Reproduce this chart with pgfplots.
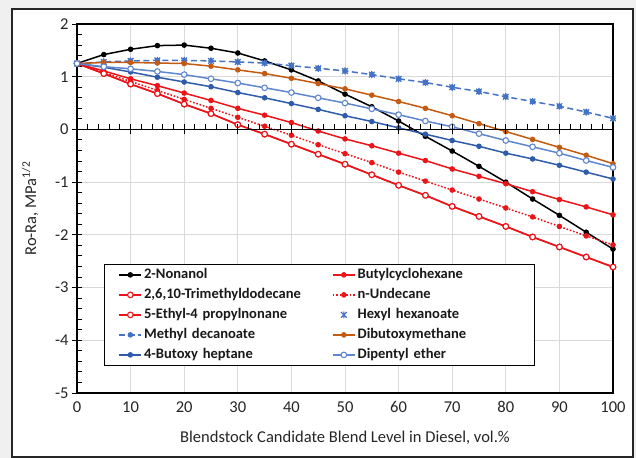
\documentclass[border=0pt]{standalone}
\usepackage{pgfplots}
\pgfplotsset{compat=1.18}
\usepackage{fontspec}
\setmainfont{Carlito}

\definecolor{xred}{RGB}{235,20,24}
\definecolor{xblue}{RGB}{68,114,196}
\definecolor{xblueD}{RGB}{47,92,170}
\definecolor{xblueL}{RGB}{95,135,205}
\definecolor{xorange}{RGB}{197,90,17}
\definecolor{xgrid}{RGB}{217,217,217}

% star marker: a cross with a vertical stroke through it
\pgfdeclareplotmark{xstar}{%
  \pgfpathmoveto{\pgfqpoint{-0.8\pgfplotmarksize}{-0.8\pgfplotmarksize}}%
  \pgfpathlineto{\pgfqpoint{0.8\pgfplotmarksize}{0.8\pgfplotmarksize}}%
  \pgfpathmoveto{\pgfqpoint{-0.8\pgfplotmarksize}{0.8\pgfplotmarksize}}%
  \pgfpathlineto{\pgfqpoint{0.8\pgfplotmarksize}{-0.8\pgfplotmarksize}}%
  \pgfpathmoveto{\pgfqpoint{0pt}{-\pgfplotmarksize}}%
  \pgfpathlineto{\pgfqpoint{0pt}{\pgfplotmarksize}}%
  \pgfusepathqstroke}

% Ro-Ra versus blend level for each candidate blendstock
\pgfplotstableread{
x   non    bch    tmd    und    mdec   dbm    dpe    bhp
0   1.25   1.25   1.25   1.25   1.25   1.25   1.25   1.25
5   1.42   1.11   1.06   1.08   1.28   1.27   1.19   1.18
10  1.52   0.96   0.86   0.91   1.30   1.27   1.15   1.09
15  1.59   0.83   0.68   0.74   1.31   1.26   1.10   0.99
20  1.60   0.69   0.48   0.57   1.31   1.25   1.04   0.90
25  1.54   0.55   0.30   0.40   1.30   1.20   0.96   0.81
30  1.45   0.40   0.09   0.23   1.28   1.13   0.88   0.70
35  1.30   0.27  -0.09   0.06   1.26   1.06   0.79   0.60
40  1.13   0.13  -0.28  -0.11   1.21   0.97   0.70   0.49
45  0.92  -0.03  -0.47  -0.29   1.16   0.87   0.60   0.38
50  0.67  -0.18  -0.66  -0.46   1.11   0.77   0.50   0.26
55  0.43  -0.31  -0.86  -0.63   1.04   0.65   0.39   0.15
60  0.16  -0.45  -1.06  -0.81   0.96   0.53   0.28   0.03
65 -0.13  -0.59  -1.25  -0.98   0.89   0.40   0.16  -0.09
70 -0.41  -0.75  -1.46  -1.15   0.80   0.26   0.05  -0.21
75 -0.70  -0.89  -1.65  -1.32   0.72   0.11  -0.08  -0.32
80 -1.00  -1.03  -1.84  -1.49   0.62  -0.04  -0.21  -0.45
85 -1.32  -1.18  -2.04  -1.66   0.53  -0.19  -0.33  -0.56
90 -1.63  -1.33  -2.23  -1.84   0.44  -0.34  -0.45  -0.68
95 -1.95  -1.47  -2.42  -2.02   0.33  -0.49  -0.59  -0.81
100 -2.27 -1.62  -2.61  -2.19   0.21  -0.65  -0.72  -0.94
}\data

\begin{document}
\begin{tikzpicture}
% page background and chart frame
\fill[gray!12] (-77bp,-65bp) rectangle (559bp,393bp);
\filldraw[fill=white,draw=black!85,line width=1.2bp] (-65bp,-64bp) rectangle (556bp,384bp);

\begin{axis}[
  scale only axis, width=536bp, height=369bp,
  xmin=0, xmax=100, ymin=-5, ymax=2,
  xtick={0,10,...,100}, ytick={-5,...,2},
  minor y tick num=4,
  grid=major, major grid style={xgrid, line width=0.8bp},
  axis line style={black, line width=1.3bp},
  x tick style={draw=none},
  ytick pos=left,
  tick align=center,
  major tick length=10bp, minor tick length=5bp,
  y tick style={black, line width=1bp},
  minor y tick style={xshift=2.5bp},
  /pgf/number format/assume math mode=true,
  tick label style={font=\fontsize{16.6}{20}\selectfont, text=black!85},
  label style={font=\fontsize{16.6}{20}\selectfont, text=black!85},
  xlabel={Blendstock Candidate Blend Level in Diesel, vol.\%},
  ylabel={Ro-Ra, MPa\textsuperscript{1/2}},
  xlabel style={at={(axis description cs:0.5,-0.122)}, anchor=center},
  ylabel style={at={(axis description cs:-0.0877,0.5)}, anchor=center},
  legend columns=2,
  legend cell align=left,
  legend image code/.code={\draw[mark repeat=2,mark phase=2,#1] plot coordinates {(0bp,0bp)(11bp,0bp)(22bp,0bp)};},
  legend style={at={(0.0504,0.0732)}, anchor=south west, draw=black, line width=1.2bp,
    fill=white, font=\fontsize{14.6}{18}\selectfont\bfseries, text=black!90,
    row sep=0bp, inner xsep=14bp, inner ysep=0.5bp,
    nodes={text height=12bp, text depth=4bp, inner sep=2bp},
    /tikz/every even column/.append style={column sep=25bp, nodes={text width=161bp}}},
  every axis plot/.append style={line width=1.5bp},
]
\addplot[black, mark=*, mark size=2bp] table[x=x,y=non]{\data};
\addlegendentry{2-Nonanol}
\addplot[xred, mark=*, mark size=2bp] table[x=x,y=bch]{\data};
\addlegendentry{Butylcyclohexane}
\addplot[xred, mark=*, mark size=2.8bp, mark options={fill=white, line width=1.1bp}] table[x=x,y=tmd]{\data};
\addlegendentry{2,6,10-Trimethyldodecane}
\addplot[xred, dash pattern=on 1.6bp off 1.8bp, mark=*, mark size=2bp, mark options={solid}] table[x=x,y=und]{\data};
\addlegendentry{n-Undecane}
\addplot[xred, mark=*, mark size=2.8bp, mark options={fill=white, line width=1.1bp}] table[x=x,y=tmd]{\data};
\addlegendentry{5-Ethyl-4 propylnonane}
\addplot[xblue, only marks, mark=xstar, mark size=3.5bp, mark options={line width=1.2bp}] table[x=x,y=mdec]{\data};
\addlegendentry{Hexyl hexanoate}
\addplot[xblue, dash pattern=on 6bp off 3.5bp, mark=*, mark size=2bp, mark options={solid}] table[x=x,y=mdec]{\data};
\addlegendentry{Methyl decanoate}
\addplot[xorange, mark=*, mark size=2bp] table[x=x,y=dbm]{\data};
\addlegendentry{Dibutoxymethane}
\addplot[xblueD, mark=*, mark size=2bp] table[x=x,y=bhp]{\data};
\addlegendentry{4-Butoxy heptane}
\addplot[xblueL, mark=*, mark size=2.8bp, mark options={fill=white, line width=1.1bp}] table[x=x,y=dpe]{\data};
\addlegendentry{Dipentyl ether}
\end{axis}

% horizontal axis line through zero with its tick marks
\begin{axis}[
  scale only axis, width=536bp, height=369bp,
  xmin=0, xmax=100, ymin=-5, ymax=2,
  axis x line=middle, axis y line=none,
  x axis line style={-, black, line width=1.3bp},
  xtick={0,10,...,100}, xticklabels={},
  minor x tick num=4,
  tick align=center,
  major tick length=10bp, minor tick length=5bp,
  x tick style={black, line width=1bp},
  minor x tick style={yshift=2.5bp},
]
\end{axis}

\pgfresetboundingbox
\path[use as bounding box] (-77bp,-65bp) rectangle (559bp,393bp);
\end{tikzpicture}
\end{document}
